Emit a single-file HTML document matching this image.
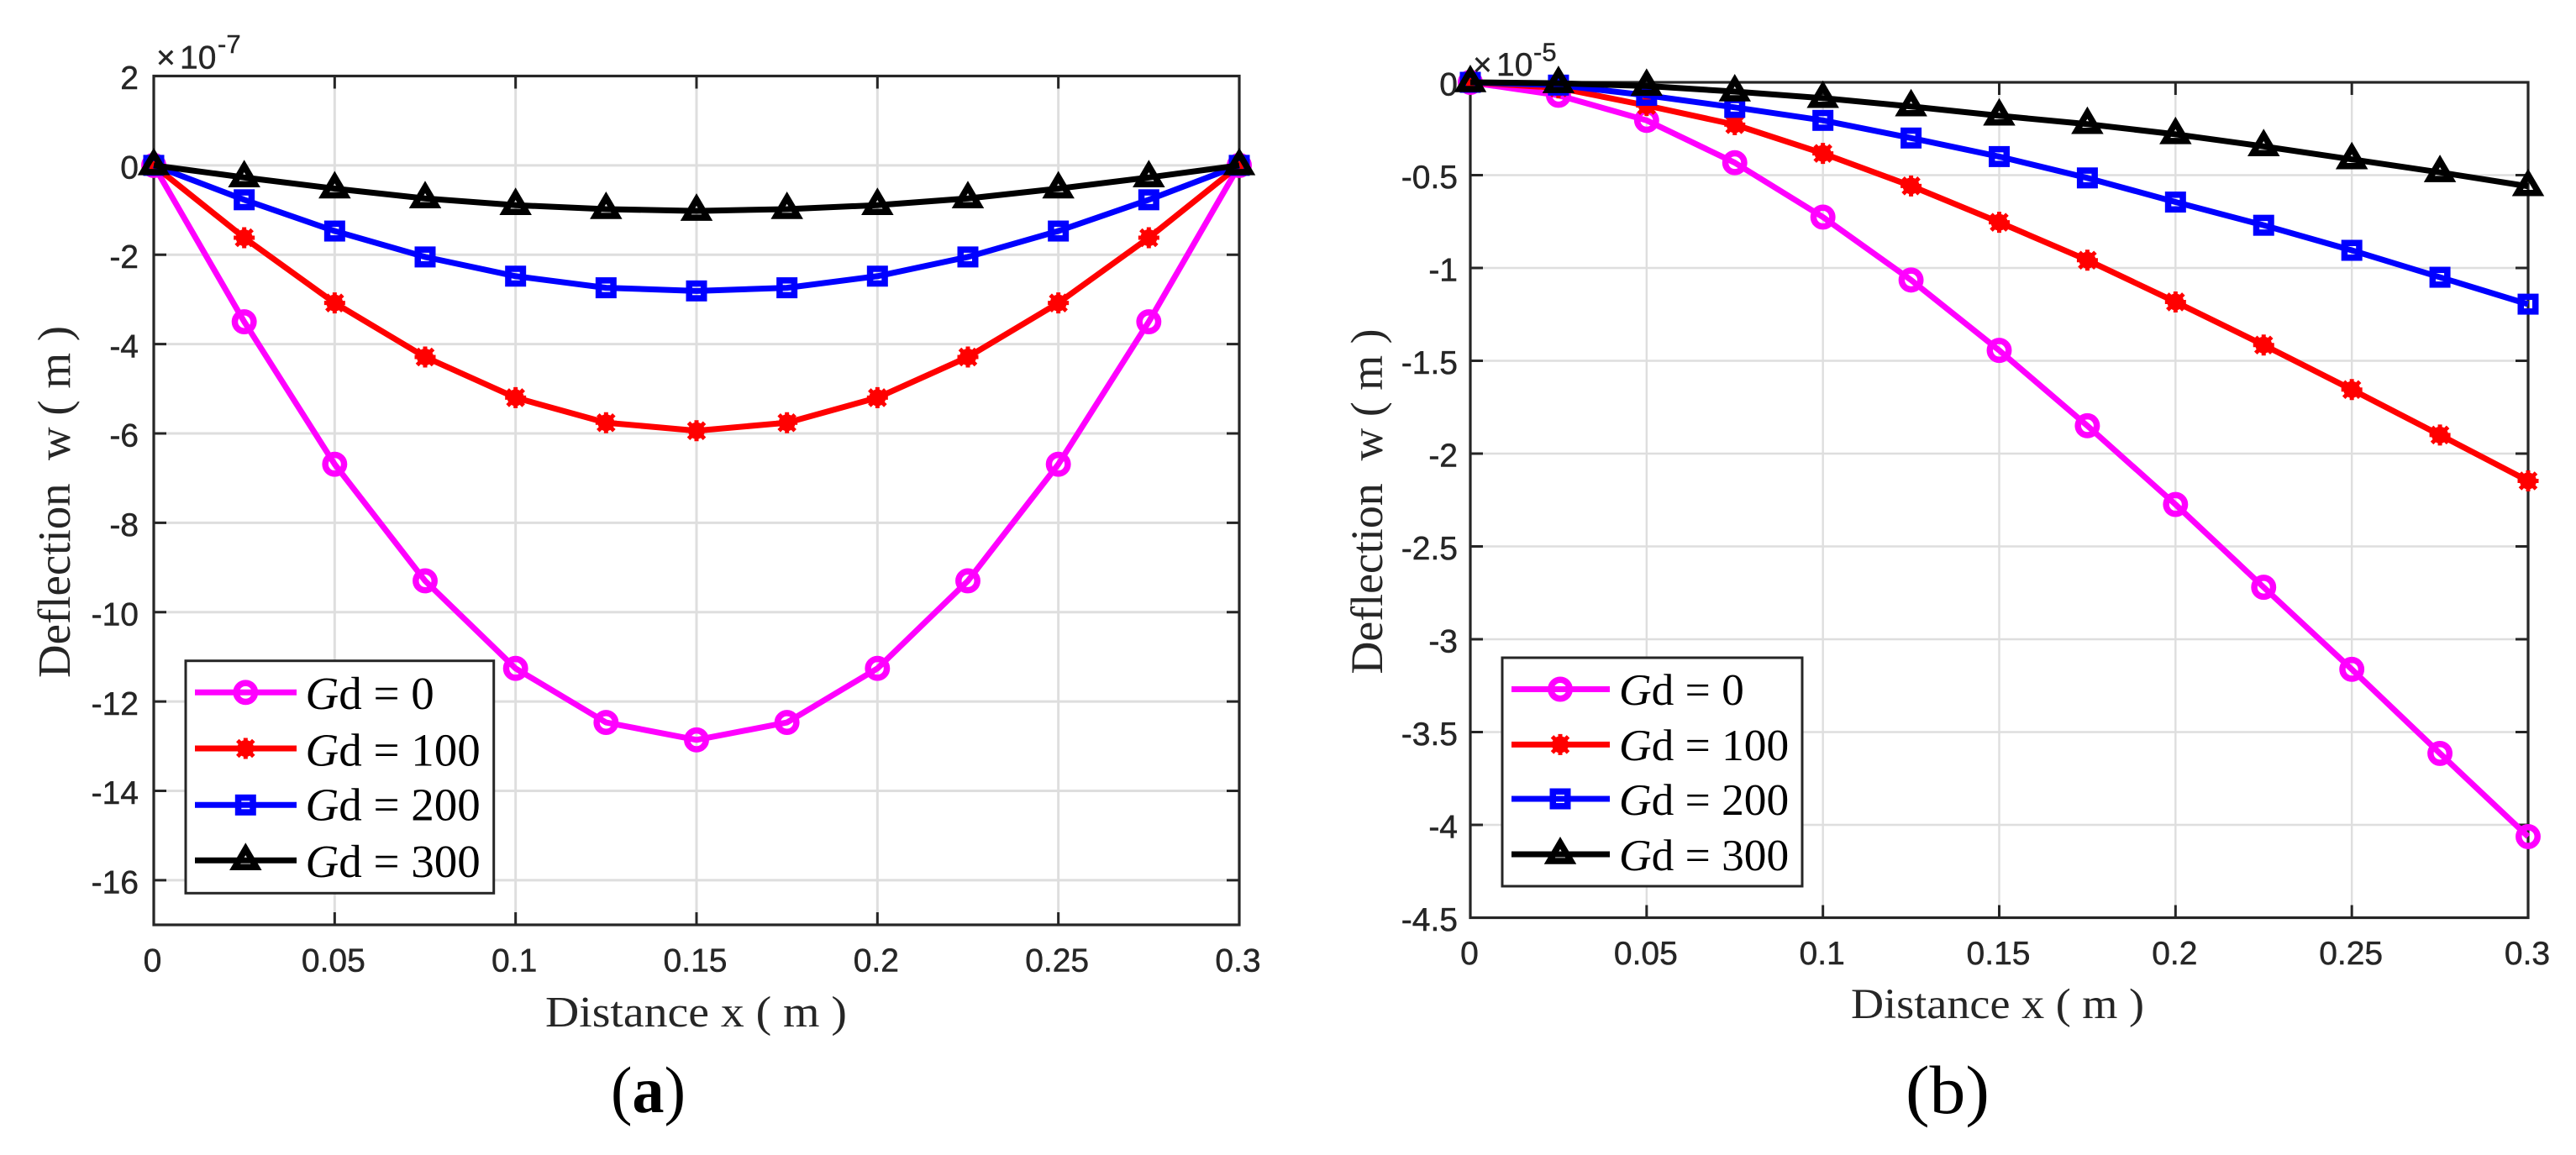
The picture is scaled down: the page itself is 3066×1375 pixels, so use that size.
<!DOCTYPE html>
<html lang="en">
<head>
<meta charset="utf-8">
<title>Deflection versus distance</title>
<style>
html,body{margin:0;padding:0;background:#fff;width:3066px;height:1375px;overflow:hidden}
svg{display:block}
.tick{font-family:"Liberation Sans",Arial,sans-serif;font-size:39px;fill:#262626;stroke:#262626;stroke-width:.5px}
.exp{font-family:"Liberation Sans",Arial,sans-serif;fill:#262626;stroke:#262626;stroke-width:.4px}
.title{font-family:"Liberation Serif","Times New Roman",serif;fill:#262626;white-space:pre}
.leg{font-family:"Liberation Serif","Times New Roman",serif;font-size:55px;fill:#000;white-space:pre}
.cap{font-family:"Liberation Serif","Times New Roman",serif;fill:#000}
</style>
</head>
<body>
<svg id="fig" xmlns="http://www.w3.org/2000/svg" width="3066" height="1375" viewBox="0 0 3066 1375">
  <rect width="3066" height="1375" fill="#fff"/>

  <g id="panel-a"></g>
  <g id="panel-b"></g>

  <text class="exp" font-size="39"><tspan x="186" y="81.7">×</tspan><tspan x="214" y="81.7">10</tspan><tspan x="259" y="63" font-size="31">-7</tspan></text>
  <text class="exp" font-size="39"><tspan x="1753" y="90">×</tspan><tspan x="1781" y="90">10</tspan><tspan x="1825" y="72.7" font-size="31">-5</tspan></text>

  <text class="title" transform="translate(83,807) rotate(-90)" font-size="55" textLength="419" lengthAdjust="spacingAndGlyphs">Deflection  w ( m )</text>
  <text class="title" transform="translate(1645,802.5) rotate(-90)" font-size="54" textLength="411" lengthAdjust="spacingAndGlyphs">Deflection  w ( m )</text>
  <text class="title" x="649" y="1222" font-size="52" textLength="359" lengthAdjust="spacingAndGlyphs">Distance x ( m )</text>
  <text class="title" x="2203" y="1212" font-size="51" textLength="349" lengthAdjust="spacingAndGlyphs">Distance x ( m )</text>

  <g id="legend-a">
    <rect x="221" y="786.7" width="366.7" height="276.6" fill="#fff" stroke="#262626" stroke-width="3"/>
    <g id="legend-a-keys"></g>
    <text class="leg" x="363.5" y="844"><tspan font-style="italic">G</tspan>d = 0</text>
    <text class="leg" x="363.5" y="911.5"><tspan font-style="italic">G</tspan>d = 100</text>
    <text class="leg" x="363.5" y="976.7"><tspan font-style="italic">G</tspan>d = 200</text>
    <text class="leg" x="363.5" y="1044"><tspan font-style="italic">G</tspan>d = 300</text>
  </g>
  <g id="legend-b">
    <rect x="1788" y="783" width="357" height="272" fill="#fff" stroke="#262626" stroke-width="3"/>
    <g id="legend-b-keys"></g>
    <text class="leg" x="1927" y="839" style="font-size:53.4px"><tspan font-style="italic">G</tspan>d = 0</text>
    <text class="leg" x="1927" y="905" style="font-size:53.4px"><tspan font-style="italic">G</tspan>d = 100</text>
    <text class="leg" x="1927" y="970" style="font-size:53.4px"><tspan font-style="italic">G</tspan>d = 200</text>
    <text class="leg" x="1927" y="1036" style="font-size:53.4px"><tspan font-style="italic">G</tspan>d = 300</text>
  </g>

  <text class="cap" x="727" y="1324" font-size="78" textLength="89" lengthAdjust="spacingAndGlyphs">(<tspan font-weight="bold">a</tspan>)</text>
  <text class="cap" x="2268" y="1325" font-size="82" textLength="100" lengthAdjust="spacingAndGlyphs">(b)</text>
</svg>

<script>
var distanceValues = [0, 0.025, 0.05, 0.075, 0.1, 0.125, 0.15, 0.175, 0.2, 0.225, 0.25, 0.275, 0.3];

var panelAGd0   = [0, -3.5, -6.69, -9.3, -11.26, -12.47, -12.86, -12.47, -11.26, -9.3, -6.69, -3.5, 0];
var panelAGd100 = [0, -1.62, -3.08, -4.29, -5.2, -5.76, -5.94, -5.76, -5.2, -4.29, -3.08, -1.62, 0];
var panelAGd200 = [0, -0.77, -1.47, -2.05, -2.48, -2.74, -2.81, -2.74, -2.48, -2.05, -1.47, -0.77, 0];
var panelAGd300 = [0, -0.27, -0.52, -0.74, -0.89, -0.98, -1.02, -0.98, -0.89, -0.74, -0.52, -0.27, 0];

var panelBGd0   = [0, -0.07, -0.205, -0.433, -0.726, -1.065, -1.444, -1.85, -2.274, -2.72, -3.162, -3.615, -4.063];
var panelBGd100 = [0, -0.03, -0.125, -0.228, -0.383, -0.558, -0.754, -0.958, -1.183, -1.415, -1.655, -1.9, -2.147];
var panelBGd200 = [0, -0.015, -0.07, -0.135, -0.205, -0.3, -0.4, -0.515, -0.645, -0.77, -0.905, -1.05, -1.195];
var panelBGd300 = [0, -0.005, -0.02, -0.05, -0.085, -0.13, -0.18, -0.225, -0.28, -0.345, -0.415, -0.485, -0.56];

var xTickValues = [0, 0.05, 0.1, 0.15, 0.2, 0.25, 0.3];
var panelAYTicks = [2, 0, -2, -4, -6, -8, -10, -12, -14, -16];
var panelBYTicks = [0, -0.5, -1, -1.5, -2, -2.5, -3, -3.5, -4, -4.5];

var seriesColors = ['#ff00ff', '#ff0000', '#0000ff', '#000000'];
var seriesMarkers = ['circle', 'star', 'square', 'triangle'];

var NS = 'http://www.w3.org/2000/svg';

function make(parent, tag, attrs) {
  var el = document.createElementNS(NS, tag);
  for (var k in attrs) { el.setAttribute(k, attrs[k]); }
  parent.appendChild(el);
  return el;
}

function drawMarker(parent, kind, x, y, color) {
  var el;
  if (kind === 'circle') {
    el = make(parent, 'circle', {cx: x, cy: y, r: 11.2, fill: 'none', stroke: color, 'stroke-width': 7.5});
  } else if (kind === 'square') {
    el = make(parent, 'rect', {x: x - 8.75, y: y - 8.75, width: 17.5, height: 17.5, fill: 'none', stroke: color, 'stroke-width': 7.5});
  } else if (kind === 'triangle') {
    el = make(parent, 'path', {d: 'M' + x + ' ' + (y - 13.6) + 'L' + (x + 12.7) + ' ' + (y + 8) + 'L' + (x - 12.7) + ' ' + (y + 8) + 'Z', fill: 'none', stroke: color, 'stroke-width': 7.5, 'stroke-linejoin': 'miter'});
  } else {
    var d = 'M' + (x - 12.5) + ' ' + y + 'H' + (x + 12.5) + 'M' + x + ' ' + (y - 12.5) + 'V' + (y + 12.5) +
            'M' + (x - 9.5) + ' ' + (y - 9.5) + 'L' + (x + 9.5) + ' ' + (y + 9.5) + 'M' + (x - 9.5) + ' ' + (y + 9.5) + 'L' + (x + 9.5) + ' ' + (y - 9.5);
    el = make(parent, 'g', {});
    make(el, 'path', {d: d, fill: 'none', stroke: color, 'stroke-width': 5});
    make(el, 'circle', {cx: x, cy: y, r: 10, fill: color});
  }
  
  
  return el;
}

function drawPanel(root, cfg) {
  function sx(v) { return cfg.left + (v - 0) / 0.3 * (cfg.right - cfg.left); }
  function sy(v) { return cfg.top + (cfg.yMax - v) / (cfg.yMax - cfg.yMin) * (cfg.bottom - cfg.top); }

  make(root, 'rect', {x: cfg.left, y: cfg.top, width: cfg.right - cfg.left, height: cfg.bottom - cfg.top, fill: '#fff'});

  cfg.xTicks.forEach(function (t) {
    var grid = make(root, 'line', {x1: sx(t), x2: sx(t), y1: cfg.top, y2: cfg.bottom, stroke: '#dedede', 'stroke-width': cfg.gridWidth});
    
    
  });
  cfg.yTicks.forEach(function (t) {
    var grid = make(root, 'line', {x1: cfg.left, x2: cfg.right, y1: sy(t), y2: sy(t), stroke: '#dedede', 'stroke-width': cfg.gridWidth});
    
    
  });

  var frame = make(root, 'rect', {x: cfg.left, y: cfg.top, width: cfg.right - cfg.left, height: cfg.bottom - cfg.top, fill: 'none', stroke: '#262626', 'stroke-width': 3.2});
  
  

  cfg.xTicks.forEach(function (t) {
    var d = 'M' + sx(t) + ' ' + cfg.bottom + 'v-15M' + sx(t) + ' ' + cfg.top + 'v15';
    var tick = make(root, 'path', {d: d, stroke: '#262626', 'stroke-width': 3, fill: 'none'});
    
    
    var label = make(root, 'text', {x: sx(t) - cfg.xLabelShift, y: cfg.xLabelY, 'text-anchor': 'middle', 'class': 'tick'});
    
    
    label.textContent = String(t);
  });
  cfg.yTicks.forEach(function (t) {
    var d = 'M' + cfg.left + ' ' + sy(t) + 'h15M' + cfg.right + ' ' + sy(t) + 'h-15';
    var tick = make(root, 'path', {d: d, stroke: '#262626', 'stroke-width': 3, fill: 'none'});
    
    
    var label = make(root, 'text', {x: cfg.yLabelX, y: sy(t) + 15.7, 'text-anchor': 'end', 'class': 'tick'});
    
    
    label.textContent = String(t);
  });

  cfg.series.forEach(function (values, i) {
    var pts = values.map(function (v, j) { return sx(distanceValues[j]) + ',' + sy(v); }).join(' ');
    var line = make(root, 'polyline', {points: pts, fill: 'none', stroke: seriesColors[i], 'stroke-width': 7, 'stroke-linejoin': 'round'});
    
    
    values.forEach(function (v, j) {
      drawMarker(root, seriesMarkers[i], sx(distanceValues[j]), sy(v), seriesColors[i]);
    });
  });
}

drawPanel(document.getElementById('panel-a'), {
  left: 183, right: 1475, top: 90.5, bottom: 1101, yMax: 2, yMin: -17,
  xTicks: xTickValues, yTicks: panelAYTicks, gridWidth: 3,
  yLabelX: 165, xLabelY: 1156.7, xLabelShift: 1.5,
  series: [panelAGd0, panelAGd100, panelAGd200, panelAGd300]
});
drawPanel(document.getElementById('panel-b'), {
  left: 1750, right: 3009, top: 98, bottom: 1092.5, yMax: 0, yMin: -4.5,
  xTicks: xTickValues, yTicks: panelBYTicks, gridWidth: 2.4,
  yLabelX: 1735, xLabelY: 1148, xLabelShift: 1,
  series: [panelBGd0, panelBGd100, panelBGd200, panelBGd300]
});

function drawLegendKeys(root, x1, x2, xm, rows) {
  rows.forEach(function (y, i) {
    var line = make(root, 'line', {x1: x1, x2: x2, y1: y, y2: y, stroke: seriesColors[i], 'stroke-width': 7});
    
    
    drawMarker(root, seriesMarkers[i], xm, y, seriesColors[i]);
  });
}
drawLegendKeys(document.getElementById('legend-a-keys'), 232, 353, 292.3, [824.3, 891, 958.3, 1024.3]);
drawLegendKeys(document.getElementById('legend-b-keys'), 1799, 1916, 1857, [820.5, 886.4, 951, 1017]);
</script>
</body>
</html>
